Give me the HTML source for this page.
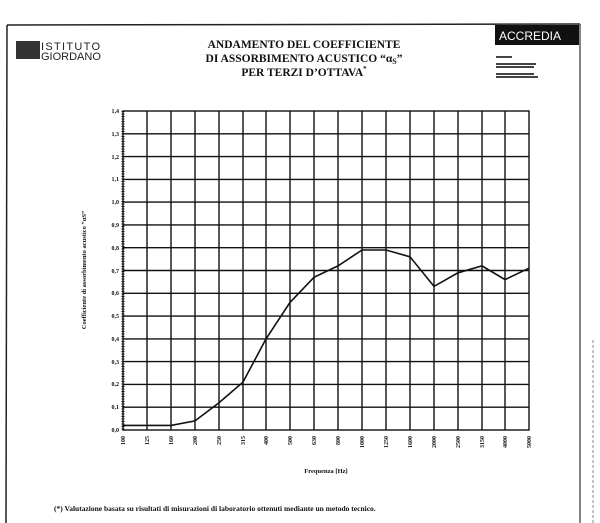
<!DOCTYPE html>
<html><head><meta charset="utf-8"><style>
html,body{margin:0;padding:0;background:#fff;}
svg{display:block;font-family:"Liberation Serif",serif;}
</style></head><body>
<svg width="600" height="523" viewBox="0 0 600 523" xmlns="http://www.w3.org/2000/svg">
<rect width="600" height="523" fill="#fff"/>
<line x1="7" y1="25" x2="580" y2="24" stroke="#222" stroke-width="1.5"/>
<line x1="7" y1="25" x2="6" y2="523" stroke="#222" stroke-width="1.5"/>
<line x1="580" y1="24" x2="580" y2="523" stroke="#333" stroke-width="1.2"/>
<line x1="593" y1="340" x2="593" y2="523" stroke="#888" stroke-width="1" stroke-dasharray="3,2"/>
<!-- logo -->
<rect x="16" y="41" width="24" height="18" fill="#333"/>
<text x="41" y="50" font-family="Liberation Sans,sans-serif" font-size="11" letter-spacing="1.3" fill="#222">ISTITUTO</text>
<text x="41" y="60" font-family="Liberation Sans,sans-serif" font-size="11" fill="#222">GIORDANO</text>
<!-- title -->
<g font-weight="bold" font-size="11.5" text-anchor="middle" fill="#111">
<text x="304" y="48">ANDAMENTO DEL COEFFICIENTE</text>
<text x="304" y="62">DI ASSORBIMENTO ACUSTICO “α<tspan font-size="8" dy="2">S</tspan><tspan dy="-2">”</tspan></text>
<text x="304" y="76">PER TERZI D’OTTAVA<tspan font-size="7" dy="-5">*</tspan></text>
</g>
<!-- accredia -->
<rect x="495" y="25" width="84" height="20" fill="#111"/>
<text x="499" y="40" font-family="Liberation Sans,sans-serif" font-size="12" fill="#fff">ACCREDIA</text>
<g fill="#444">
<rect x="496" y="56" width="16" height="2"/>
<rect x="496" y="63" width="40" height="2"/><rect x="496" y="66" width="38" height="2"/>
<rect x="496" y="73" width="38" height="2"/><rect x="496" y="76" width="42" height="2"/>
</g>
<!-- grid -->
<g stroke="#111" stroke-width="1.4" fill="none">
<rect x="123" y="111" width="406" height="319"/>
<path d="M147 111V430M171 111V430M195 111V430M219 111V430M243 111V430M266 111V430M290 111V430M314 111V430M338 111V430M362 111V430M386 111V430M410 111V430M434 111V430M458 111V430M482 111V430M505 111V430"/>
<path d="M123 133.8H529M123 156.6H529M123 179.4H529M123 202.1H529M123 224.9H529M123 247.7H529M123 270.5H529M123 293.3H529M123 316.1H529M123 338.9H529M123 361.6H529M123 384.4H529M123 407.2H529"/>
</g>
<!-- minor ticks left -->
<path d="M123 111V430" stroke="#111" stroke-width="3" stroke-dasharray="1,1.5"/>
<g font-size="6" font-weight="bold" text-anchor="end" fill="#111">
<text x="119" y="113">1,4</text><text x="119" y="136">1,3</text><text x="119" y="159">1,2</text><text x="119" y="181">1,1</text><text x="119" y="204">1,0</text><text x="119" y="227">0,9</text><text x="119" y="250">0,8</text><text x="119" y="273">0,7</text><text x="119" y="295">0,6</text><text x="119" y="318">0,5</text><text x="119" y="341">0,4</text><text x="119" y="364">0,3</text><text x="119" y="386">0,2</text><text x="119" y="409">0,1</text><text x="119" y="432">0,0</text>
</g>
<g font-size="6" font-weight="bold" text-anchor="end" fill="#111">
<text transform="translate(125,436) rotate(-90)">100</text>
<text transform="translate(149,436) rotate(-90)">125</text>
<text transform="translate(173,436) rotate(-90)">160</text>
<text transform="translate(197,436) rotate(-90)">200</text>
<text transform="translate(221,436) rotate(-90)">250</text>
<text transform="translate(245,436) rotate(-90)">315</text>
<text transform="translate(268,436) rotate(-90)">400</text>
<text transform="translate(292,436) rotate(-90)">500</text>
<text transform="translate(316,436) rotate(-90)">630</text>
<text transform="translate(340,436) rotate(-90)">800</text>
<text transform="translate(364,436) rotate(-90)">1000</text>
<text transform="translate(388,436) rotate(-90)">1250</text>
<text transform="translate(412,436) rotate(-90)">1600</text>
<text transform="translate(436,436) rotate(-90)">2000</text>
<text transform="translate(460,436) rotate(-90)">2500</text>
<text transform="translate(484,436) rotate(-90)">3150</text>
<text transform="translate(507,436) rotate(-90)">4000</text>
<text transform="translate(531,436) rotate(-90)">5000</text>
</g>
<text x="326" y="473" font-size="6.5" font-weight="bold" text-anchor="middle" fill="#111">Frequenza [Hz]</text>
<text transform="translate(86,270) rotate(-90)" font-size="6.5" font-weight="bold" text-anchor="middle" fill="#111">Coefficiente di assorbimento acustico “αS”</text>
<!-- curve -->
<polyline fill="none" stroke="#111" stroke-width="1.6" points="123,425.4 147,425.4 171,425.4 195,420.9 219,402.7 243,382.1 266,338.9 290,302.4 314,277.3 338,265.9 362,250 386,250 410,256.8 434,286.4 458,272.8 482,265.9 505,279.6 529,268.2"/>
<text x="54" y="511" font-size="7.5" font-weight="bold" fill="#111">(*) Valutazione basata su risultati di misurazioni di laboratorio ottenuti mediante un metodo tecnico.</text>
</svg>
</body></html>
